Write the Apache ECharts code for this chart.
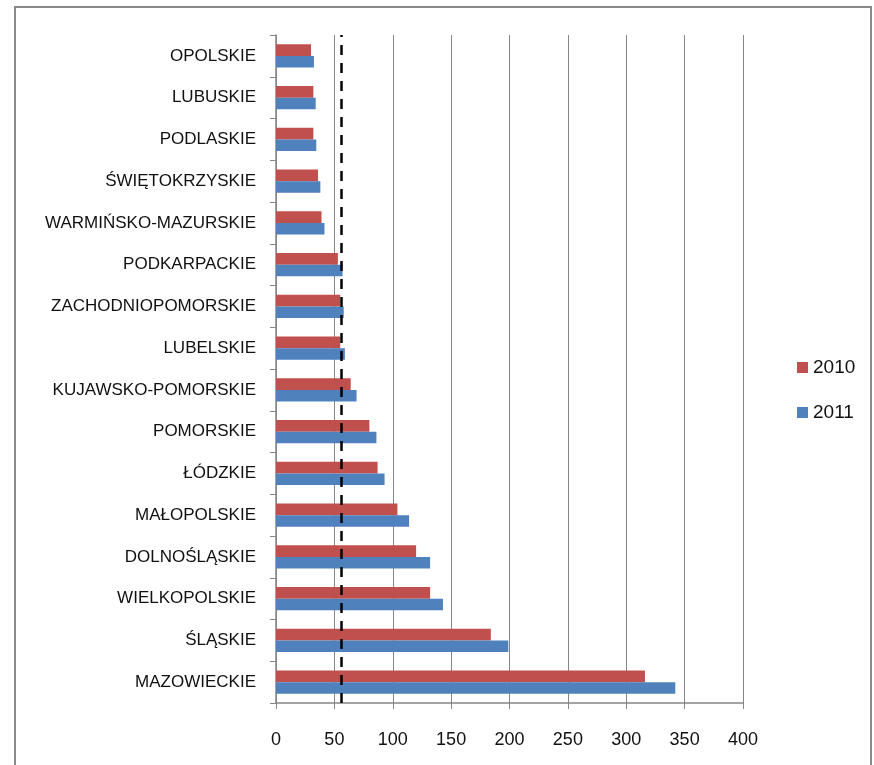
<!DOCTYPE html>
<html>
<head>
<meta charset="utf-8">
<script src="https://cdn.jsdelivr.net/npm/echarts@6/dist/echarts.min.js"></script>
<style>
html,body{margin:0;padding:0;background:#fff;}
#chart{width:874px;height:765px;}
</style>
</head>
<body>
<div id="chart"></div>
<script>
// categories listed bottom to top
var categories = ['MAZOWIECKIE','ŚLĄSKIE','WIELKOPOLSKIE','DOLNOŚLĄSKIE','MAŁOPOLSKIE','ŁÓDZKIE','POMORSKIE','KUJAWSKO-POMORSKIE','LUBELSKIE','ZACHODNIOPOMORSKIE','PODKARPACKIE','WARMIŃSKO-MAZURSKIE','ŚWIĘTOKRZYSKIE','PODLASKIE','LUBUSKIE','OPOLSKIE'];
var values2010 = [316, 184, 132, 120, 104, 87, 80, 64, 55, 55, 53, 39, 36, 32, 32, 30];
var values2011 = [342, 199, 143, 132, 114, 93, 86, 69, 59, 58, 57, 41.5, 38, 34.5, 34, 32.5];
var meanLine = 56;
var xTicks = [0, 50, 100, 150, 200, 250, 300, 350, 400];

var font = "'Liberation Sans Narrow', 'Liberation Sans', Arial, sans-serif";
var chart = echarts.init(document.getElementById('chart'), null, {renderer: 'canvas'});
chart.setOption({
  animation: false,
  backgroundColor: '#ffffff',
  graphic: [{
    type: 'polyline',
    shape: {points: [[15, 770], [15, 7], [871, 7], [871, 770]]},
    style: {stroke: '#8a8a8a', lineWidth: 2, fill: null},
    silent: true
  }],
  grid: {left: 276, right: 131, top: 35, bottom: 62, containLabel: false},
  legend: {
    data: ['2010', '2011'],
    orient: 'vertical',
    left: 792, top: 353,
    itemWidth: 11, itemHeight: 11, itemGap: 26,
    icon: 'rect',
    textStyle: {fontFamily: font, fontSize: 19, color: '#111'}
  },
  xAxis: {
    type: 'value', min: xTicks[0], max: xTicks[xTicks.length - 1], interval: 50,
    axisLine: {show: true, lineStyle: {color: '#868686', width: 1.5}},
    axisTick: {show: true, length: 6, lineStyle: {color: '#868686'}},
    splitLine: {show: true, lineStyle: {color: '#868686', width: 1}},
    axisLabel: {fontFamily: font, fontSize: 18, color: '#111', margin: 28}
  },
  yAxis: {
    type: 'category', data: categories,
    axisLine: {show: true, lineStyle: {color: '#868686', width: 1.5}},
    axisTick: {show: true, length: 6, lineStyle: {color: '#868686'}},
    axisLabel: {fontFamily: font, fontSize: 17, color: '#111', margin: 20}
  },
  series: [
    {
      name: '2010', type: 'bar', data: values2010,
      itemStyle: {color: '#C0504D'},
      barGap: '0%', barCategoryGap: '44%',
      markLine: {
        silent: true, symbol: 'none',
        label: {show: false},
        lineStyle: {color: '#000', type: [10, 8], width: 2.5},
        data: [{xAxis: meanLine}]
      }
    },
    {
      name: '2011', type: 'bar', data: values2011,
      itemStyle: {color: '#4F81BD'},
      barGap: '0%', barCategoryGap: '44%'
    }
  ]
});
</script>
</body>
</html>
